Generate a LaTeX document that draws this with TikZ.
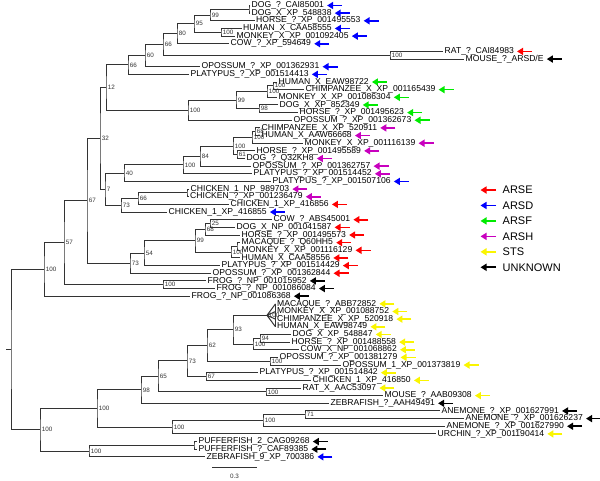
\documentclass[tikz,border=0pt]{standalone}
\usepackage{fontspec}
\setmainfont{Liberation Sans}
\usepackage{xcolor}
\usepackage{tikz}
\usetikzlibrary{arrows.meta}

\definecolor{arse}{RGB}{255,0,0}
\definecolor{arsd}{RGB}{0,0,255}
\definecolor{arsf}{RGB}{0,235,0}
\definecolor{arsh}{RGB}{200,0,190}
\definecolor{sts}{RGB}{250,245,0}
\definecolor{unk}{RGB}{0,0,0}

\begin{document}
\begin{tikzpicture}[
  x=1pt, y=-7.65pt,
  branch/.style={draw=black!80, line width=1pt},
  leaf/.style={anchor=west, inner sep=1.5pt, font=\fontsize{8.6}{9}\selectfont},
  boot/.style={anchor=west, inner sep=1.6pt, font=\fontsize{6.3}{7}\selectfont, text=black!80},
  key/.style={anchor=west, inner sep=0pt, font=\fontsize{11}{12}\selectfont},
  tag/.style={-{Triangle[length=6pt,width=7pt]}, line width=1.6pt}
]
  \useasboundingbox (0,-0.719) rectangle (600,62.03);

  \foreach \nm/\x/\r/\txt/\c in {
    dogA/250/0/{DOG\_?\_CAI85001}/arsd,
    dogB/250/1/{DOG\_X\_XP\_548838}/arsd,
    horseA/254.5/2/{HORSE\_?\_XP\_001495553}/arsd,
    humanA/241.5/3/{HUMAN\_X\_CAA58555}/arsd,
    monkeyA/235/4/{MONKEY\_X\_XP\_001092405}/arsd,
    cowA/229/5/{COW\_?\_XP\_594649}/arsd,
    ratA/443/6/{RAT\_?\_CAI84983}/arse,
    mouseA/464/7/{MOUSE\_?\_ARSD/E}/unk,
    opossumA/200/8/{OPOSSUM\_?\_XP\_001362931}/arsd,
    platypusA/189/9/{PLATYPUS\_?\_XP\_001514413}/arsd,
    humanB/277/10/{HUMAN\_X\_EAW98722}/arsf,
    chimpB/304/11/{CHIMPANZEE\_X\_XP\_001165439}/arsf,
    monkeyB/277/12/{MONKEY\_X\_XP\_001086304}/arsf,
    dogC/278/13/{DOG\_X\_XP\_852349}/arsf,
    horseC/298/14/{HORSE\_?\_XP\_001495623}/arsf,
    opossumC/292/15/{OPOSSUM\_?\_XP\_001362673}/arsf,
    chimpD/260/16/{CHIMPANZEE\_X\_XP\_520911}/arsh,
    humanD/260/17/{HUMAN\_X\_AAW66668}/arsh,
    monkeyD/303/18/{MONKEY\_X\_XP\_001116139}/arsh,
    horseD/255/19/{HORSE\_?\_XP\_001495589}/arsh,
    dogD/245/20/{DOG\_?\_Q32KH8}/arsh,
    opossumD/251/21/{OPOSSUM\_?\_XP\_001362757}/arsh,
    platypusD/252/22/{PLATYPUS\_?\_XP\_001514452}/arsh,
    platypusE/271/23/{PLATYPUS\_?\_XP\_001507106}/arsd,
    chickenA/189/24/{CHICKEN\_1\_NP\_989703}/arsh,
    chickenB/188.5/25/{CHICKEN\_?\_XP\_001236479}/arsh,
    chickenC/229/26/{CHICKEN\_1\_XP\_416856}/arse,
    chickenD/167/27/{CHICKEN\_1\_XP\_416855}/arsd,
    cowF/272/28/{COW\_?\_ABS45001}/arse,
    dogF/235/29/{DOG\_X\_NP\_001041587}/arse,
    horseF/240/30/{HORSE\_?\_XP\_001495573}/arse,
    macaqueF/240/31/{MACAQUE\_?\_Q60HH5}/arse,
    monkeyF/240/32/{MONKEY\_X\_XP\_001116129}/arse,
    humanF/240/33/{HUMAN\_X\_CAA58556}/arse,
    platypusF/220/34/{PLATYPUS\_?\_XP\_001514429}/arse,
    opossumF/211/35/{OPOSSUM\_?\_XP\_001362844}/arse,
    frogA/206/36/{FROG\_?\_NP\_001015952}/unk,
    frogB/215/37/{FROG\_?\_NP\_001086084}/unk,
    frogC/190/38/{FROG\_?\_NP\_001086368}/unk,
    macaqueS/275.5/39/{MACAQUE\_?\_ABB72852}/sts,
    monkeyS/275.5/40/{MONKEY\_X\_XP\_001088752}/sts,
    chimpS/275.5/41/{CHIMPANZEE\_X\_XP\_520918}/sts,
    humanS/275.5/42/{HUMAN\_X\_EAW98749}/sts,
    dogS/291/43/{DOG\_X\_XP\_548847}/sts,
    horseS/290/44/{HORSE\_?\_XP\_001488558}/sts,
    cowS/299/45/{COW\_X\_NP\_001068862}/sts,
    opossumS/278/46/{OPOSSUM\_?\_XP\_001381279}/sts,
    opossumT/341/47/{OPOSSUM\_1\_XP\_001373819}/sts,
    platypusS/258/48/{PLATYPUS\_?\_XP\_001514842}/sts,
    chickenS/311/49/{CHICKEN\_1\_XP\_416850}/sts,
    ratS/301/50/{RAT\_X\_AAC53097}/sts,
    mouseS/383/51/{MOUSE\_?\_AAB09308}/sts,
    zebraA/329/52/{ZEBRAFISH\_?\_AAH49491}/unk,
    anemA/440/53/{ANEMONE\_?\_XP\_001627991}/unk,
    anemB/464/54/{ANEMONE\_?\_XP\_001626237}/unk,
    anemC/445/55/{ANEMONE\_?\_XP\_001627990}/unk,
    urchin/436/56/{URCHIN\_?\_XP\_001190414}/sts,
    pufferA/197/57/{PUFFERFISH\_2\_CAG09268}/unk,
    pufferB/197/58/{PUFFERFISH\_?\_CAF89385}/unk,
    zebraB/205/59/{ZEBRAFISH\_9\_XP\_700386}/arsd}{
    \node[leaf] (\nm) at (\x,\r) {\txt};
    \draw[tag,\c] ([xshift=16.5pt]\nm.east) -- ([xshift=1.5pt]\nm.east);
  }

  \node[boot] (dp) at (249,0.5) {};
  \node[boot] (n99a) at (210,1.25) {99};
  \node[boot] (n100a) at (221,3.5) {100};
  \node[boot] (n95) at (194,2.375) {95};
  \node[boot] (n80) at (177,3.6875) {80};
  \node[boot] (rm) at (390,6.5) {100};
  \node[boot] (n66a) at (163,5.094) {66};
  \node[boot] (n60) at (145,6.547) {60};
  \node[boot] (n66b) at (128,7.773) {66};
  \node[boot] (hc) at (273,10.5) {100};
  \node[boot] (n100b) at (267,11.25) {100};
  \node[boot] (n98a) at (259,13.5) {98};
  \node[boot] (n99b) at (236,12.375) {99};
  \node[boot] (n100c) at (188,13.6875) {100};
  \node[boot] (n12) at (106,10.730) {12};
  \node[boot] (ch) at (255,16.5) {68};
  \node[boot] (n100d) at (252,17.25) {100};
  \node[boot] (n61) at (237,19.5) {61};
  \node[boot] (n100e) at (233,18.375) {100};
  \node[boot] (n84) at (200,19.6875) {84};
  \node[boot] (n100f) at (183,20.844) {100};
  \node[boot] (n40) at (124,21.922) {40};
  \node[boot] (cc) at (187,24.5) {};
  \node[boot] (n66c) at (138,25.25) {66};
  \node[boot] (n73a) at (121,26.125) {73};
  \node[boot] (n7) at (105,24.023) {7};
  \node[boot] (n32) at (100,17.377) {32};
  \node[boot] (cd) at (210,28.5) {25};
  \node[boot] (n68) at (205,29.25) {68};
  \node[boot] (mm) at (237,31.5) {};
  \node[boot] (n100g) at (231,32.25) {100};
  \node[boot] (n99c) at (195,30.75) {99};
  \node[boot] (n54) at (144,32.375) {54};
  \node[boot] (n73b) at (130,33.6875) {73};
  \node[boot] (n67) at (87,25.532) {67};
  \node[boot] (ff) at (163,36.5) {100};
  \node[boot] (n57) at (64,31.016) {57};
  \node[boot] (n100h) at (44,34.508) {100};
  \node[boot] (mch) at (267,40.5) {100};
  \node[boot] (dh) at (260,43.5) {94};
  \node[boot] (n100i) at (253,44.25) {100};
  \node[boot] (n93) at (233,42.375) {93};
  \node[boot] (oo) at (270,46.5) {100};
  \node[boot] (n62) at (207,44.4375) {62};
  \node[boot] (n67b) at (206,48.5) {67};
  \node[boot] (n73c) at (187,46.469) {73};
  \node[boot] (rm2) at (266,50.5) {100};
  \node[boot] (n65) at (158,48.484) {65};
  \node[boot] (n98b) at (141,50.242) {98};
  \node[boot] (n71) at (305,53.5) {71};
  \node[boot] (ane) at (263,54.25) {100};
  \node[boot] (au) at (172,55.125) {100};
  \node[boot] (n100j) at (97,52.684) {100};
  \node[boot] (pp) at (194,57.5) {};
  \node[boot] (fish) at (89,58.25) {100};
  \node[boot] (n100k) at (40,55.467) {100};
  \node[boot] (root) at (11,44.99) {};
  \coordinate (stem) at (6,44.99);

  \draw[branch] (dogA.west) -| (dp.west) |- (dogB.west);
  \draw[branch] (dp.west) -| (n99a.west) |- (horseA.west);
  \draw[branch] (humanA.west) -| (n100a.west) |- (monkeyA.west);
  \draw[branch] (n99a.west) -| (n95.west) |- (n100a.west);
  \draw[branch] (n95.west) -| (n80.west) |- (cowA.west);
  \draw[branch] (ratA.west) -| (rm.west) |- (mouseA.west);
  \draw[branch] (n80.west) -| (n66a.west) |- (rm.west);
  \draw[branch] (n66a.west) -| (n60.west) |- (opossumA.west);
  \draw[branch] (n60.west) -| (n66b.west) |- (platypusA.west);
  \draw[branch] (humanB.west) -| (hc.west) |- (chimpB.west);
  \draw[branch] (hc.west) -| (n100b.west) |- (monkeyB.west);
  \draw[branch] (dogC.west) -| (n98a.west) |- (horseC.west);
  \draw[branch] (n100b.west) -| (n99b.west) |- (n98a.west);
  \draw[branch] (n99b.west) -| (n100c.west) |- (opossumC.west);
  \draw[branch] (n66b.west) -| (n12.west) |- (n100c.west);
  \draw[branch] (chimpD.west) -| (ch.west) |- (humanD.west);
  \draw[branch] (ch.west) -| (n100d.west) |- (monkeyD.west);
  \draw[branch] (horseD.west) -| (n61.west) |- (dogD.west);
  \draw[branch] (n100d.west) -| (n100e.west) |- (n61.west);
  \draw[branch] (n100e.west) -| (n84.west) |- (opossumD.west);
  \draw[branch] (n84.west) -| (n100f.west) |- (platypusD.west);
  \draw[branch] (n100f.west) -| (n40.west) |- (platypusE.west);
  \draw[branch] (chickenA.west) -| (cc.west) |- (chickenB.west);
  \draw[branch] (cc.west) -| (n66c.west) |- (chickenC.west);
  \draw[branch] (n66c.west) -| (n73a.west) |- (chickenD.west);
  \draw[branch] (n40.west) -| (n7.west) |- (n73a.west);
  \draw[branch] (n12.west) -| (n32.west) |- (n7.west);
  \draw[branch] (cowF.west) -| (cd.west) |- (dogF.west);
  \draw[branch] (cd.west) -| (n68.west) |- (horseF.west);
  \draw[branch] (macaqueF.west) -| (mm.west) |- (monkeyF.west);
  \draw[branch] (mm.west) -| (n100g.west) |- (humanF.west);
  \draw[branch] (n68.west) -| (n99c.west) |- (n100g.west);
  \draw[branch] (n99c.west) -| (n54.west) |- (platypusF.west);
  \draw[branch] (n54.west) -| (n73b.west) |- (opossumF.west);
  \draw[branch] (n32.west) -| (n67.west) |- (n73b.west);
  \draw[branch] (frogA.west) -| (ff.west) |- (frogB.west);
  \draw[branch] (n67.west) -| (n57.west) |- (ff.west);
  \draw[branch] (n57.west) -| (n100h.west) |- (frogC.west);
  \draw[branch] (mch.west) -- (macaqueS.west) (mch.west) -- (monkeyS.west)
    (mch.west) -- (chimpS.west) (mch.west) -- (humanS.west);
  \draw[branch] (macaqueS.west) -- (humanS.west);
  \draw[branch] (dogS.west) -| (dh.west) |- (horseS.west);
  \draw[branch] (dh.west) -| (n100i.west) |- (cowS.west);
  \draw[branch] (mch.west) -| (n93.west) |- (n100i.west);
  \draw[branch] (opossumS.west) -| (oo.west) |- (opossumT.west);
  \draw[branch] (n93.west) -| (n62.west) |- (oo.west);
  \draw[branch] (platypusS.west) -| (n67b.west) |- (chickenS.west);
  \draw[branch] (n62.west) -| (n73c.west) |- (n67b.west);
  \draw[branch] (ratS.west) -| (rm2.west) |- (mouseS.west);
  \draw[branch] (n73c.west) -| (n65.west) |- (rm2.west);
  \draw[branch] (n65.west) -| (n98b.west) |- (zebraA.west);
  \draw[branch] (anemA.west) -| (n71.west) |- (anemB.west);
  \draw[branch] (n71.west) -| (ane.west) |- (anemC.west);
  \draw[branch] (ane.west) -| (au.west) |- (urchin.west);
  \draw[branch] (n98b.west) -| (n100j.west) |- (au.west);
  \draw[branch] (pufferA.west) -| (pp.west) |- (pufferB.west);
  \draw[branch] (pp.west) -| (fish.west) |- (zebraB.west);
  \draw[branch] (n100j.west) -| (n100k.west) |- (fish.west);
  \draw[branch] (n100h.west) -| (root.west) |- (n100k.west);
  \draw[branch] (stem) -- (root.west);

  \foreach \c/\t [count=\i] in {arse/ARSE, arsd/ARSD, arsf/ARSF, arsh/ARSH, sts/STS, unk/UNKNOWN}{
    \node[key] (key\i) at (502.5,{24.12+2.02*(\i-1)}) {\t};
    \draw[tag,\c] ([xshift=-6.5pt]key\i.west) -- ([xshift=-22pt]key\i.west);
  }

  \coordinate (barL) at (212,60.33);
  \coordinate (barR) at (257,60.33);
  \draw[branch] (barL) -- (barR);
  \node[boot, anchor=center] (barlab) at (234.5,61.55) {0.3};
\end{tikzpicture}
\end{document}
